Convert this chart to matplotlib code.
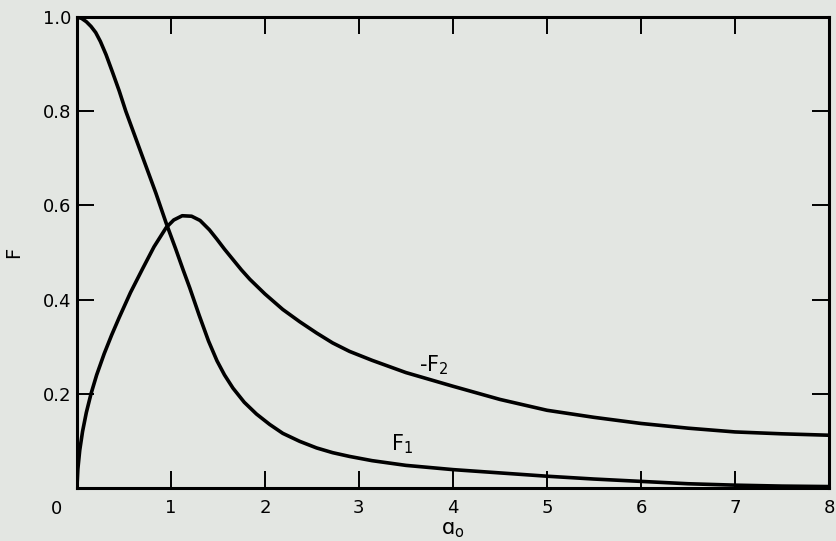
import matplotlib.pyplot as plt

# frequency parameter a0 and the two force coefficients
a_f1 = [0.0, 0.05, 0.1, 0.15, 0.2, 0.25, 0.31, 0.38, 0.45, 0.52, 0.61, 0.7,
        0.84, 0.95, 1.05, 1.13, 1.2, 1.3, 1.4, 1.49, 1.57, 1.66, 1.78, 1.91,
        2.05, 2.19, 2.37, 2.55, 2.72, 2.9, 3.14, 3.5, 4.0, 4.5, 5.0, 5.5,
        6.0, 6.5, 7.0, 7.5, 8.0]
f1 = [1.0, 0.997, 0.99, 0.98, 0.967, 0.948, 0.92, 0.882, 0.843, 0.8, 0.751,
      0.702, 0.626, 0.562, 0.508, 0.463, 0.425, 0.367, 0.312, 0.27, 0.24,
      0.212, 0.182, 0.157, 0.135, 0.116, 0.099, 0.085, 0.075, 0.067, 0.058,
      0.048, 0.039, 0.032, 0.025, 0.019, 0.014, 0.009, 0.006, 0.004, 0.003]

a_f2 = [0.0, 0.01, 0.03, 0.06, 0.1, 0.15, 0.21, 0.29, 0.37, 0.45, 0.57, 0.7,
        0.82, 0.95, 1.03, 1.12, 1.22, 1.31, 1.41, 1.49, 1.57, 1.66, 1.75,
        1.84, 2.0, 2.19, 2.37, 2.55, 2.72, 2.9, 3.14, 3.5, 4.0, 4.5, 5.0,
        5.5, 6.0, 6.5, 7.0, 7.5, 8.0]
neg_f2 = [0.0, 0.04, 0.08, 0.12, 0.16, 0.2, 0.24, 0.285, 0.325, 0.362,
          0.415, 0.466, 0.512, 0.553, 0.569, 0.578, 0.577, 0.568, 0.548,
          0.528, 0.507, 0.485, 0.463, 0.443, 0.412, 0.379, 0.353, 0.329,
          0.308, 0.29, 0.271, 0.245, 0.216, 0.188, 0.165, 0.15, 0.137,
          0.127, 0.119, 0.115, 0.112]

x_ticks = [1, 2, 3, 4, 5, 6, 7, 8]
y_ticks = [0.2, 0.4, 0.6, 0.8, 1.0]

bg = '#e3e6e2'
fig = plt.figure(figsize=(8.36, 5.41), dpi=100, facecolor=bg)
ax = fig.add_axes([0.092, 0.098, 0.8996, 0.8706], facecolor=bg)

ax.plot(a_f1, f1, color='black', lw=2.6, solid_capstyle='round',
        solid_joinstyle='round')
ax.plot(a_f2, neg_f2, color='black', lw=2.6, solid_capstyle='round',
        solid_joinstyle='round')

ax.set_xlim(0, 8)
ax.set_ylim(0, 1.0)
ax.set_xticks(x_ticks)
ax.set_yticks(y_ticks)
ax.set_xticklabels([str(t) for t in x_ticks])
ax.set_yticklabels(['%.1f' % t for t in y_ticks])
ax.tick_params(direction='in', length=12, width=1.4, labelsize=13,
               top=True, right=True, pad=8)
ax.tick_params(axis='y', pad=4)
for s in ax.spines.values():
    s.set_linewidth(2.2)

ax.text(-0.02, -0.025, '0', transform=ax.transAxes, ha='right', va='top',
        fontsize=13)
ax.set_xlabel('ɑ$_\\mathregular{o}$', fontsize=15, labelpad=2)
ax.set_ylabel('F', fontsize=14, labelpad=14)

ax.text(3.8, 0.26, '-F$_\\mathregular{2}$', fontsize=15, ha='center',
        va='center')
ax.text(3.46, 0.094, 'F$_\\mathregular{1}$', fontsize=15, ha='center',
        va='center')

fig.savefig('out.png', dpi=100, facecolor=bg)
